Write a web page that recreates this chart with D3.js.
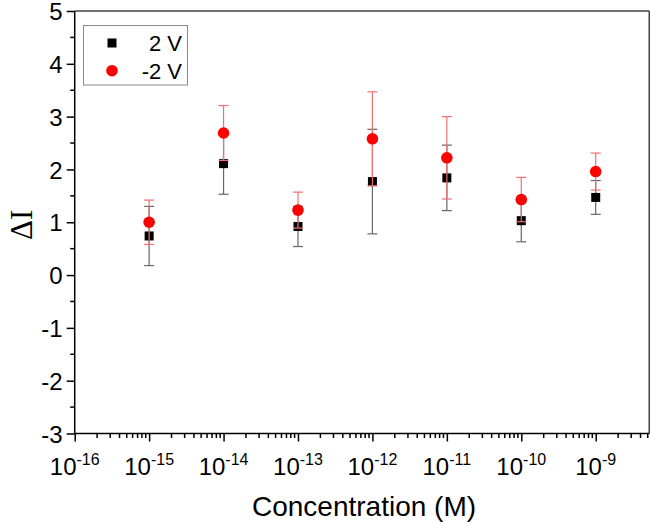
<!DOCTYPE html>
<html><head><meta charset="utf-8">
<script src="https://cdn.jsdelivr.net/npm/d3@7"></script>
<style>body{margin:0;background:#fff}svg{display:block}</style>
</head><body>
<script>
const concentrations = [1e-15, 1e-14, 1e-13, 1e-12, 1e-11, 1e-10, 1e-9];
const pos2V = [0.74, 2.11, 0.92, 1.77, 1.84, 1.03, 1.47];
const pos2VErr = [0.56, 0.58, 0.38, 0.99, 0.62, 0.40, 0.32];
const neg2V = [1.00, 2.69, 1.23, 2.58, 2.22, 1.43, 1.96];
const neg2VErr = [0.42, 0.52, 0.34, 0.89, 0.78, 0.42, 0.35];
const xTickExps = [-16, -15, -14, -13, -12, -11, -10, -9];
const yTicks = [-3, -2, -1, 0, 1, 2, 3, 4, 5];
const seriesNames = ["2 V", "-2 V"];

const W = 650, H = 522;
const L = 74.7, R = 649.3, T = 11, B = 433.5;
const FONT = "Liberation Sans, Arial, sans-serif";
const svg = d3.select("body").append("svg").attr("width", W).attr("height", H);

const x = d3.scaleLog().domain([1e-16, Math.pow(10, -8.28)]).range([L, R]);
const y = d3.scaleLinear().domain([-3, 5]).range([B, T]);

// frame top/right
svg.append("line").attr("x1", L).attr("x2", R).attr("y1", T).attr("y2", T).attr("stroke", "#444").attr("stroke-width", 1.6);
svg.append("line").attr("x1", R).attr("x2", R).attr("y1", T).attr("y2", B).attr("stroke", "#444").attr("stroke-width", 1.6);

// y axis
const yMinor = d3.range(-3, 5, 0.5).filter(v => !Number.isInteger(v));
const gy = svg.append("g").attr("transform", `translate(${L},0)`);
gy.call(d3.axisLeft(y).tickValues(yTicks).tickSize(8).tickFormat(d => String(d)));
gy.selectAll(".tick text").attr("font-family", FONT).attr("font-size", 24).attr("fill", "#000").attr("dx", "-1").attr("dy", "0.36em");
gy.selectAll("line,path").attr("stroke", "#000").attr("stroke-width", 1.5);
gy.select(".domain").attr("d", `M0,${B}V${T}`);
gy.selectAll(".minor").data(yMinor).enter().append("line").attr("class", "minor")
  .attr("x1", 0).attr("x2", -4.5).attr("y1", d => y(d)).attr("y2", d => y(d)).attr("stroke", "#000").attr("stroke-width", 1.5);

// x axis
const gx = svg.append("g").attr("transform", `translate(0,${B})`);
gx.call(d3.axisBottom(x).tickValues(xTickExps.map(e => Math.pow(10, e))).tickSize(8).tickFormat(""));
gx.selectAll("line,path").attr("stroke", "#000").attr("stroke-width", 1.5);
gx.select(".domain").attr("d", `M${L},0H${R}`);
const xMinor = [];
for (let e = -16; e <= -9; e++) for (let m = 2; m <= 9; m++) { const v = m * Math.pow(10, e); if (x(v) < R) xMinor.push(v); }
gx.selectAll(".minor").data(xMinor).enter().append("line").attr("class", "minor")
  .attr("x1", d => x(d)).attr("x2", d => x(d)).attr("y1", 0).attr("y2", 4.5).attr("stroke", "#000").attr("stroke-width", 1.5);
const xl = gx.selectAll(".xlab").data(xTickExps).enter().append("text").attr("class", "xlab")
  .attr("x", e => x(Math.pow(10, e))).attr("y", 41).attr("text-anchor", "middle")
  .attr("font-family", FONT).attr("font-size", 24).attr("fill", "#000");
xl.append("tspan").text("10");
xl.append("tspan").attr("dy", -10).attr("font-size", 16).text(e => e);

// axis titles
svg.append("text").attr("x", (L + R) / 2 + 2).attr("y", 516).attr("text-anchor", "middle")
  .attr("font-family", FONT).attr("font-size", 28).text("Concentration (M)");
svg.append("text").attr("transform", `translate(32,${y(0.95)}) rotate(-90)`).attr("text-anchor", "middle")
  .attr("font-family", "Liberation Serif, Times New Roman, serif").attr("font-size", 31).text("ΔI");

// data
function errBars(vals, errs, color) {
  const g = svg.append("g").attr("stroke", color).attr("stroke-width", 1.2);
  concentrations.forEach((c, i) => {
    const cx = x(c), y0 = y(vals[i] - errs[i]), y1 = y(vals[i] + errs[i]);
    g.append("line").attr("x1", cx).attr("x2", cx).attr("y1", y0).attr("y2", y1);
    g.append("line").attr("x1", cx - 5).attr("x2", cx + 5).attr("y1", y0).attr("y2", y0);
    g.append("line").attr("x1", cx - 5).attr("x2", cx + 5).attr("y1", y1).attr("y2", y1);
  });
}
errBars(pos2V, pos2VErr, "#666");
svg.append("g").selectAll("rect").data(concentrations).enter().append("rect")
  .attr("x", (c) => x(c) - 4.5).attr("y", (c, i) => y(pos2V[i]) - 4.5).attr("width", 9).attr("height", 9).attr("fill", "#000");
errBars(neg2V, neg2VErr, "#f07070");
svg.append("g").selectAll("circle").data(concentrations).enter().append("circle")
  .attr("cx", c => x(c)).attr("cy", (c, i) => y(neg2V[i])).attr("r", 5.8).attr("fill", "#ff0000");

// legend
svg.append("rect").attr("x", 83.5).attr("y", 25.5).attr("width", 104).attr("height", 59.5)
  .attr("fill", "#fff").attr("stroke", "#888").attr("stroke-width", 1);
svg.append("rect").attr("x", 107.5).attr("y", 38.5).attr("width", 9).attr("height", 9).attr("fill", "#000");
svg.append("circle").attr("cx", 112).attr("cy", 70.7).attr("r", 5.8).attr("fill", "#ff0000");
svg.selectAll(".leg").data(seriesNames).enter().append("text").attr("class", "leg")
  .attr("x", 182).attr("y", (d, i) => 51 + i * 28).attr("text-anchor", "end")
  .attr("font-family", FONT).attr("font-size", 22).text(d => d);
</script>
</body></html>
